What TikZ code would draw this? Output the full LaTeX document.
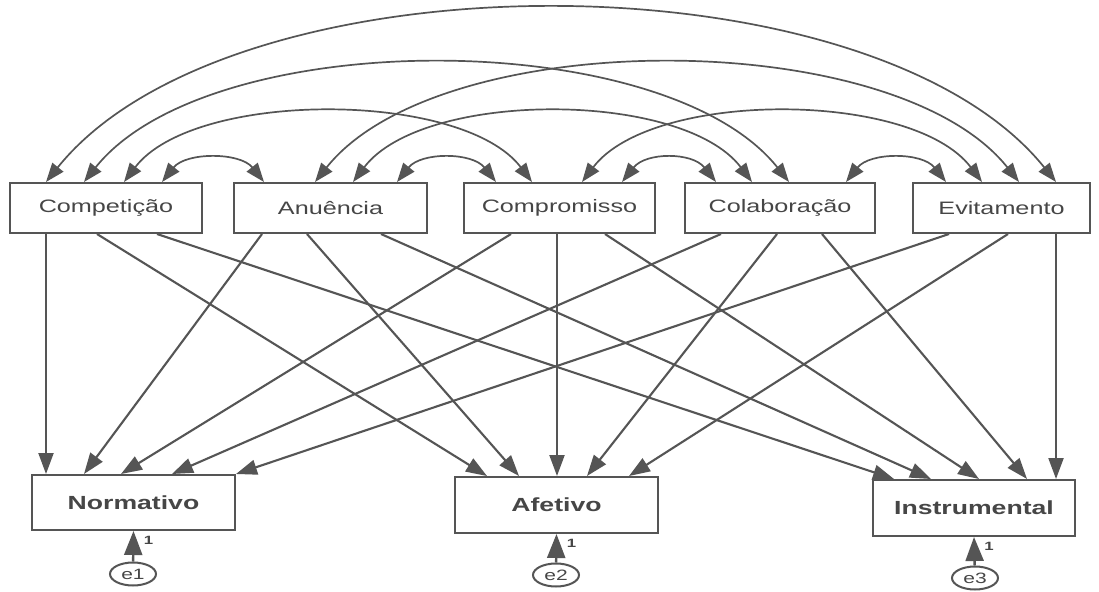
\documentclass[tikz,border=0pt]{standalone}
\usepackage{fontspec}
\setmainfont{Liberation Sans}[FakeStretch=1.4]
\usetikzlibrary{arrows.meta,shapes.geometric}
\definecolor{lc}{RGB}{85,85,85}
\definecolor{tc}{RGB}{70,70,70}
\begin{document}
\begin{tikzpicture}[x=1pt,y=-1pt,
  box/.style={draw=lc, line width=2pt, fill=white, text=tc, inner sep=0pt,
    font=\fontsize{18}{21}\selectfont},
  bbox/.style={box, font=\fontsize{19}{22}\selectfont\bfseries},
  pth/.style={draw=lc, line width=2.1pt, -{Triangle[length=21pt,width=15pt]}},
  cov/.style={draw=lc, line width=1.7pt,
    {Triangle[length=19pt,width=14pt]}-{Triangle[length=19pt,width=14pt]}},
  err/.style={ellipse, draw=lc, line width=2pt, minimum width=46pt,
    minimum height=23pt, inner sep=0pt, text=tc, font=\fontsize{15}{15}\selectfont},
  errarr/.style={draw=lc, line width=2.4pt, -{Triangle[length=24pt,width=18pt]}},
  one/.style={text=tc, font=\fontsize{12}{12}\selectfont\bfseries, inner sep=0pt}
]
\useasboundingbox[fill=white] (0,0) rectangle (1099,591);

% top row
\node[box, minimum width=192pt, minimum height=50pt] (comp)  at (106,208)   {Competição};
\node[box, minimum width=193pt, minimum height=50pt] (anu)   at (330.5,208) {Anuência};
\node[box, minimum width=191pt, minimum height=50pt] (compr) at (559.5,208) {Compromisso};
\node[box, minimum width=190pt, minimum height=50pt] (colab) at (780,208)   {Colaboração};
\node[box, minimum width=177pt, minimum height=50pt] (evit)  at (1001.5,208){Evitamento};

% bottom row
\node[bbox, minimum width=203pt, minimum height=55pt] (norm)  at (133.5,502.5) {Normativo};
\node[bbox, minimum width=203pt, minimum height=56pt] (afet)  at (556.5,505)   {Afetivo};
\node[bbox, minimum width=202pt, minimum height=56pt] (instr) at (974,508)     {Instrumental};

% errors
\node[err] (e1) at (133,574) {e1};
\node[err] (e2) at (556,575) {e2};
\node[err] (e3) at (975,578) {e3};
\draw[errarr] (e1) -- (norm.south);
\draw[errarr] (e2) -- (afet.south);
\draw[errarr] (e3) -- (instr.south);
\node[one] (o1) at ([xshift=15pt,yshift=-9pt]norm.south) {1};
\node[one] (o2) at ([xshift=15pt,yshift=-9pt]afet.south) {1};
\node[one] (o3) at ([xshift=15pt,yshift=-9pt]instr.south) {1};

% covariances: adjacent
\draw[cov] ([xshift=153pt]comp.north west) .. controls +(24,-30) and +(-24,-30) .. ([xshift=31pt]anu.north west);
\draw[cov] ([xshift=164pt]anu.north west) .. controls +(24,-30) and +(-24,-30) .. ([xshift=33pt]compr.north west);
\draw[cov] ([xshift=159pt]compr.north west) .. controls +(24,-30) and +(-24,-30) .. ([xshift=32pt]colab.north west);
\draw[cov] ([xshift=162pt]colab.north west) .. controls +(24,-30) and +(-24,-30) .. ([xshift=34pt]evit.north west);
% distance 2
\draw[cov] ([xshift=115pt]comp.north west) .. controls +(70,-92) and +(-70,-92) .. ([xshift=69pt]compr.north west);
\draw[cov] ([xshift=120pt]anu.north west) .. controls +(70,-92) and +(-70,-92) .. ([xshift=68pt]colab.north west);
\draw[cov] ([xshift=119pt]compr.north west) .. controls +(70,-92) and +(-70,-92) .. ([xshift=70pt]evit.north west);
% distance 3
\draw[cov] ([xshift=75pt]comp.north west) .. controls +(125,-157) and +(-125,-157) .. ([xshift=105pt]colab.north west);
\draw[cov] ([xshift=82pt]anu.north west) .. controls +(125,-157) and +(-125,-157) .. ([xshift=107pt]evit.north west);
% distance 4
\draw[cov] ([xshift=37pt]comp.north west) .. controls +(185,-230) and +(-185,-230) .. ([xshift=144pt]evit.north west);

% paths
\draw[pth] ([xshift=37pt]comp.south west) -- ([xshift=15pt]norm.north west);
\draw[pth] ([xshift=88pt]comp.south west) -- ([xshift=33pt]afet.north west);
\draw[pth] ([xshift=148pt]comp.south west) -- ([xshift=22pt]instr.north west);
\draw[pth] ([xshift=29pt]anu.south west) -- ([xshift=53pt]norm.north west);
\draw[pth] ([xshift=74pt]anu.south west) -- ([xshift=65pt]afet.north west);
\draw[pth] ([xshift=148pt]anu.south west) -- ([xshift=59pt]instr.north west);
\draw[pth] ([xshift=48pt]compr.south west) -- ([xshift=90pt]norm.north west);
\draw[pth] ([xshift=94pt]compr.south west) -- ([xshift=103pt]afet.north west);
\draw[pth] ([xshift=142pt]compr.south west) -- ([xshift=107pt]instr.north west);
\draw[pth] ([xshift=37pt]colab.south west) -- ([xshift=141pt]norm.north west);
\draw[pth] ([xshift=93pt]colab.south west) -- ([xshift=133pt]afet.north west);
\draw[pth] ([xshift=138pt]colab.south west) -- ([xshift=155pt]instr.north west);
\draw[pth] ([xshift=37pt]evit.south west) -- (norm.north east);
\draw[pth] ([xshift=96pt]evit.south west) -- ([xshift=175pt]afet.north west);
\draw[pth] ([xshift=144pt]evit.south west) -- ([xshift=184pt]instr.north west);
\end{tikzpicture}
\end{document}
